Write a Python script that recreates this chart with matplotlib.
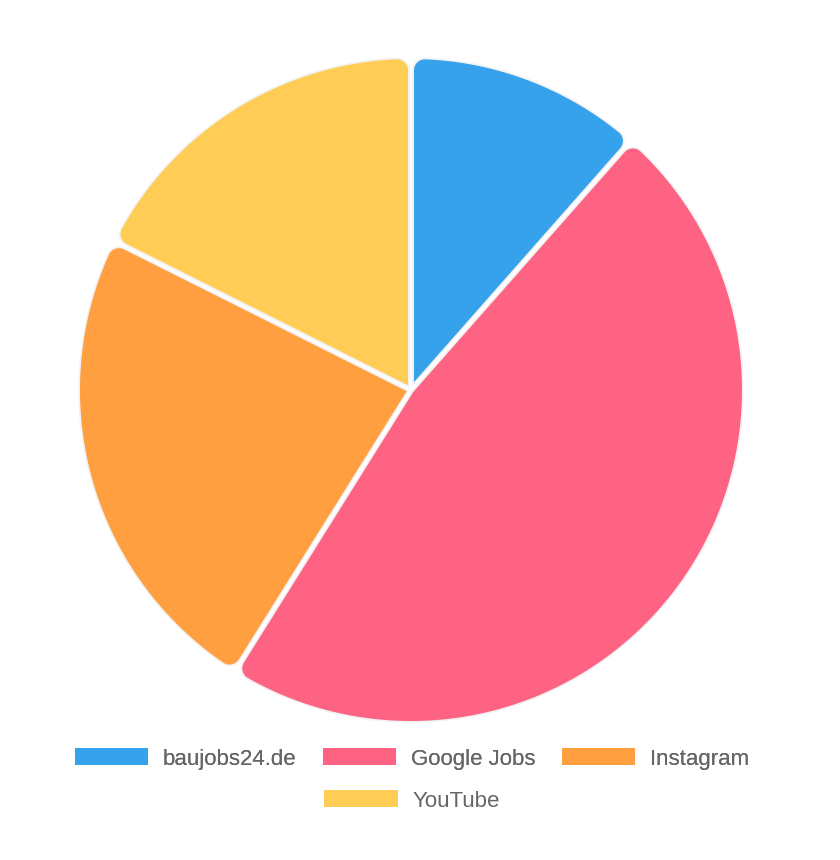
import numpy as np
import matplotlib
matplotlib.use('Agg')
import matplotlib.pyplot as plt
from matplotlib.patches import Polygon, Rectangle

labels = ['baujobs24.de', 'Google Jobs', 'Instagram', 'YouTube']
values = [11.5, 47.4, 23.5, 17.6]
colors = ['#36A2EB', '#FF6384', '#FF9F40', '#FFCD56']

W, H = 840, 860
cx, cy = 411, 390          # pie centre in pixels (from top)
R_out = 331                # outer radius in pixels
half_gap = 3               # white border between slices
corner = 11                # rounded outer corners


def arc(c, r, a0, a1, n=40):
    t = np.linspace(a0, a1, n)
    return np.column_stack([c[0] + r * np.cos(t), c[1] + r * np.sin(t)])


def near(a, ref):
    # put angle a within pi of ref
    return ref + (a - ref + np.pi) % (2 * np.pi) - np.pi


def slice_poly(a0, a1):
    # a0 < a1, math angles in radians; slice runs counter clockwise
    mid = 0.5 * (a0 + a1)
    d = a1 - a0
    apex = half_gap / np.sin(d / 2) * np.array([np.cos(mid), np.sin(mid)])
    t = np.sqrt((R_out - corner) ** 2 - (half_gap + corner) ** 2)

    u0 = np.array([np.cos(a0), np.sin(a0)])
    n0 = np.array([-np.sin(a0), np.cos(a0)])
    c0 = t * u0 + (half_gap + corner) * n0
    phi0 = near(np.arctan2(c0[1], c0[0]), a0)

    u1 = np.array([np.cos(a1), np.sin(a1)])
    n1 = np.array([-np.sin(a1), np.cos(a1)])
    c1 = t * u1 - (half_gap + corner) * n1
    phi1 = near(np.arctan2(c1[1], c1[0]), a1)

    pts = [apex[None, :],
           arc(c0, corner, a0 - np.pi / 2, phi0, 15),
           arc((0, 0), R_out, phi0, phi1, 200),
           arc(c1, corner, phi1, a1 + np.pi / 2, 15)]
    return np.vstack(pts)


fig = plt.figure(figsize=(W / 100, H / 100), dpi=100)
half = 345
ax = fig.add_axes([(cx - half) / W, 1 - (cy + half) / H, 2 * half / W, 2 * half / H])
ax.set_xlim(-half, half)
ax.set_ylim(-half, half)
ax.set_aspect('equal')
ax.axis('off')

fracs = np.array(values) / np.sum(values)
start = 0.0
for frac, col in zip(fracs, colors):
    end = start + frac * 360
    # clockwise from the top -> math angles
    a_hi = np.radians(90 - start)
    a_lo = np.radians(90 - end)
    poly = slice_poly(a_lo, a_hi)
    ax.add_patch(Polygon(poly, closed=True, facecolor='none',
                         edgecolor=(0, 0, 0, 0.05), linewidth=2.5, zorder=1))
    ax.add_patch(Polygon(poly, closed=True, facecolor=col,
                         edgecolor='none', zorder=2))
    start = end

handles = [Rectangle((0, 0), 1, 1, facecolor=c, edgecolor='none') for c in colors]
leg_kw = dict(loc='center', frameon=False, labelcolor='#666666',
              handlelength=3.3, handleheight=0.8, handletextpad=0.65,
              columnspacing=1.2, borderpad=0,
              prop={'family': 'Liberation Sans', 'size': 16})
leg1 = fig.legend(handles[:3], labels[:3], ncol=3,
                  bbox_to_anchor=(412 / W, 1 - 759 / H), **leg_kw)
fig.add_artist(leg1)
fig.legend(handles[3:], labels[3:], ncol=1,
           bbox_to_anchor=(412 / W, 1 - 801 / H), **leg_kw)

fig.savefig('out.png', dpi=100)
